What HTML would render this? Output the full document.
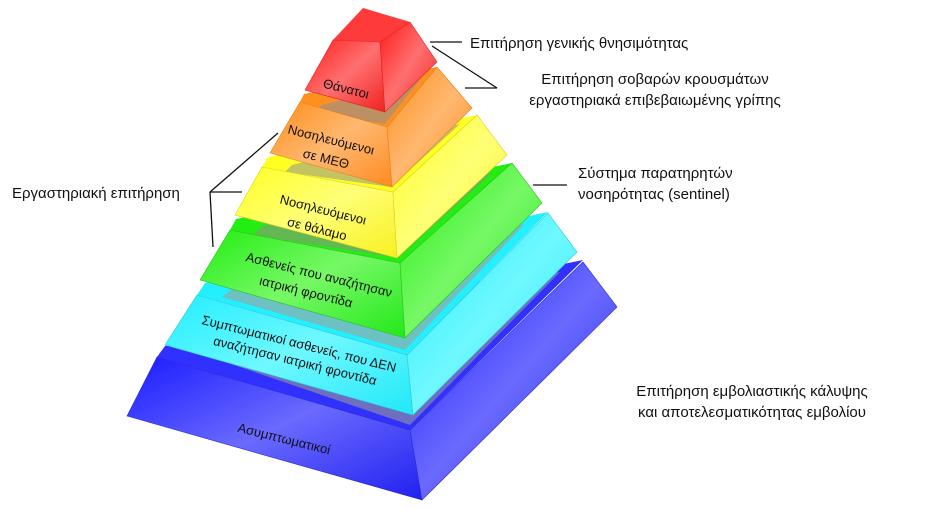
<!DOCTYPE html>
<html><head><meta charset="utf-8"><style>
html,body{margin:0;padding:0;background:#fff;}
svg{display:block;}
text{font-family:"Liberation Sans","DejaVu Sans",sans-serif;fill:#111;}
.l{font-size:15px;}
.p{font-size:13px;}
</style></head><body>
<svg width="931" height="508" viewBox="0 0 931 508" xmlns="http://www.w3.org/2000/svg">
<defs>
<linearGradient id="gb" x1="0" y1="0" x2="1" y2="1"><stop offset="0" stop-color="#1a1aff"/><stop offset="0.5" stop-color="#6a6aff"/><stop offset="1" stop-color="#2020f0"/></linearGradient>
<linearGradient id="gc" x1="0" y1="0" x2="1" y2="1"><stop offset="0" stop-color="#22eeff"/><stop offset="0.5" stop-color="#6ff8ff"/><stop offset="1" stop-color="#20e8f8"/></linearGradient>
<linearGradient id="gg" x1="0" y1="0" x2="1" y2="1"><stop offset="0" stop-color="#22ee11"/><stop offset="0.5" stop-color="#77f866"/><stop offset="1" stop-color="#22e818"/></linearGradient>
<linearGradient id="gy" x1="0" y1="0" x2="1" y2="1"><stop offset="0" stop-color="#ffff22"/><stop offset="0.5" stop-color="#ffff77"/><stop offset="1" stop-color="#f8f020"/></linearGradient>
<linearGradient id="go" x1="0" y1="0" x2="1" y2="1"><stop offset="0" stop-color="#ff8c1a"/><stop offset="0.5" stop-color="#ffb870"/><stop offset="1" stop-color="#ff8a20"/></linearGradient>
<linearGradient id="gr" x1="0" y1="0" x2="1" y2="1"><stop offset="0" stop-color="#ff1a1a"/><stop offset="0.5" stop-color="#ff7070"/><stop offset="1" stop-color="#f02020"/></linearGradient>
</defs>

<!-- Blue -->
<polygon points="157,357 165,346 583,260 410,430" fill="#3030ff"/>
<polygon points="190,350 200,342 560,272 410,425" fill="#807fb0" opacity="0.8"/>
<polygon points="157,357 410,430 422,500 127,416" fill="url(#gb)" stroke="#2a2ad0" stroke-width="0.6"/>
<polygon points="410,430 583,262 617,307 422,500" fill="url(#gb)" stroke="#2a2ad0" stroke-width="0.6"/>
<!-- Cyan -->
<polygon points="197,295 205,283 548,212 407,355" fill="#22f0ff"/>
<polygon points="222,297 232,289 525,224 405,350" fill="#7ab8b8" opacity="0.85"/>
<polygon points="197,295 407,355 413,415 165,345" fill="url(#gc)" stroke="#30c8e0" stroke-width="0.6"/>
<polygon points="407,355 548,213 577,252 413,415" fill="url(#gc)" stroke="#30c8e0" stroke-width="0.6"/>
<!-- Green -->
<polygon points="230,230 236,219 512,163 400,263" fill="#22ee11"/>
<polygon points="253,235 262,226 492,173 398,258" fill="#6fae60" opacity="0.85"/>
<polygon points="230,230 400,263 405,338 200,280" fill="url(#gg)" stroke="#2cc020" stroke-width="0.6"/>
<polygon points="400,263 512,163 542,203 405,338" fill="url(#gg)" stroke="#2cc020" stroke-width="0.6"/>
<!-- Yellow -->
<polygon points="262,167 268,157 477,115 393,192" fill="#ffff22"/>
<polygon points="285,172 292,165 460,124 391,187" fill="#b8b870" opacity="0.85"/>
<polygon points="262,167 393,192 397,258 235,215" fill="url(#gy)" stroke="#d8d020" stroke-width="0.6"/>
<polygon points="393,192 477,115 507,155 397,258" fill="url(#gy)" stroke="#d8d020" stroke-width="0.6"/>
<!-- Orange -->
<polygon points="300,102 304,94 437,67 387,127" fill="#ff9020"/>
<polygon points="315,112 322,105 420,80 385,124" fill="#b09070" opacity="0.85"/>
<polygon points="300,102 387,127 392,187 270,153" fill="url(#go)" stroke="#e08020" stroke-width="0.6"/>
<polygon points="387,127 437,67 472,108 392,187" fill="url(#go)" stroke="#e08020" stroke-width="0.6"/>
<!-- Red -->
<polygon points="333,40 363,8 410,22 380,42" fill="#ff3a3a"/>
<polygon points="333,40 380,42 385,112 305,90" fill="url(#gr)" stroke="#e02020" stroke-width="0.6"/>
<polygon points="380,42 410,22 437,62 385,112" fill="url(#gr)" stroke="#e02020" stroke-width="0.6"/>

<!-- pyramid labels -->
<g class="p" text-anchor="middle">
<text transform="translate(345,93) rotate(14)">Θάνατοι</text>
<text transform="translate(330,144) rotate(14)">Νοσηλευόμενοι</text>
<text transform="translate(325,163) rotate(14)">σε ΜΕΘ</text>
<text transform="translate(322,214) rotate(14)">Νοσηλευόμενοι</text>
<text transform="translate(316,233) rotate(14)">σε θάλαμο</text>
<text transform="translate(318,279) rotate(14)">Ασθενείς που αναζήτησαν</text>
<text transform="translate(305,296) rotate(14)">ιατρική φροντίδα</text>
<text transform="translate(298,348) rotate(14)">Συμπτωματικοί ασθενείς, που ΔΕΝ</text>
<text transform="translate(294,365) rotate(14)">αναζήτησαν ιατρική φροντίδα</text>
<text transform="translate(283,443) rotate(14)">Ασυμπτωματικοί</text>
</g>

<!-- connectors -->
<g stroke="#111" stroke-width="1.3" fill="none">
<line x1="430" y1="42" x2="462" y2="42"/>
<line x1="432" y1="46" x2="497" y2="88"/>
<line x1="465" y1="88" x2="497" y2="88"/>
<line x1="533" y1="185" x2="567" y2="185"/>
<line x1="210" y1="192" x2="278" y2="133"/>
<line x1="210" y1="192" x2="242" y2="192"/>
<line x1="210" y1="192" x2="213" y2="247"/>
</g>

<g class="l">
<text x="470" y="48">Επιτήρηση γενικής θνησιμότητας</text>
<text x="655" y="84" text-anchor="middle">Επιτήρηση σοβαρών κρουσμάτων</text>
<text x="655" y="105" text-anchor="middle">εργαστηριακά επιβεβαιωμένης γρίπης</text>
<text x="578" y="178">Σύστημα παρατηρητών</text>
<text x="578" y="199">νοσηρότητας (sentinel)</text>
<text x="12" y="198">Εργαστηριακή επιτήρηση</text>
<text x="752" y="396" text-anchor="middle">Επιτήρηση εμβολιαστικής κάλυψης</text>
<text x="752" y="417" text-anchor="middle">και αποτελεσματικότητας εμβολίου</text>
</g>
</svg>
</body></html>
